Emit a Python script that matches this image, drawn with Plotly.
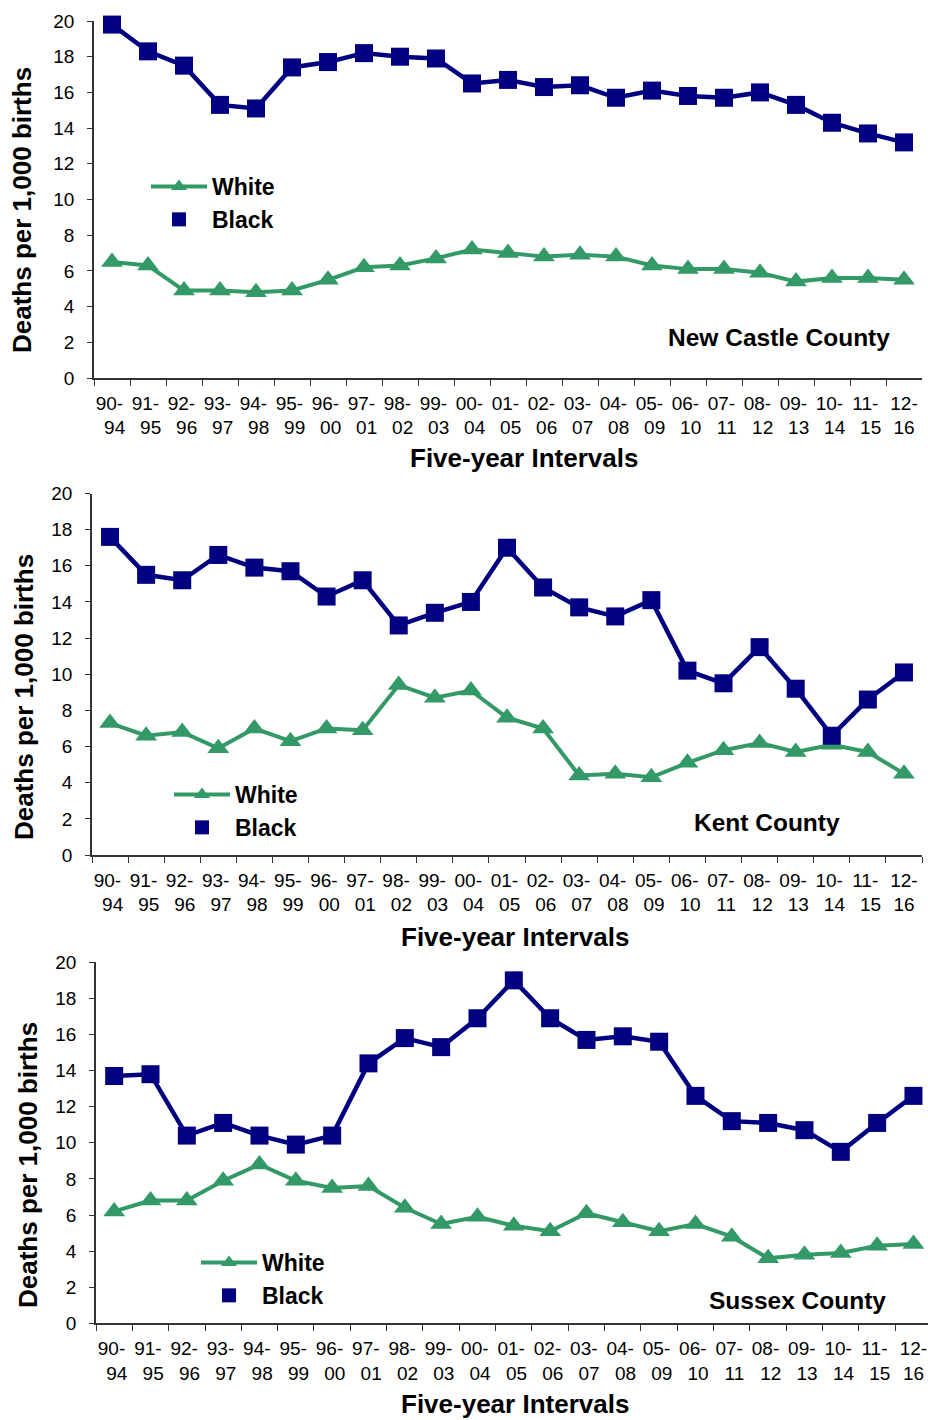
import plotly.graph_objects as go

categories = ["90-94", "91-95", "92-96", "93-97", "94-98", "95-99", "96-00", "97-01",
              "98-02", "99-03", "00-04", "01-05", "02-06", "03-07", "04-08", "05-09",
              "06-10", "07-11", "08-12", "09-13", "10-14", "11-15", "12-16"]

nc_white = [6.5, 6.3, 4.9, 4.9, 4.8, 4.9, 5.5, 6.2, 6.3, 6.7, 7.2, 7.0, 6.8, 6.9, 6.8,
            6.3, 6.1, 6.1, 5.9, 5.4, 5.6, 5.6, 5.5]
nc_black = [19.8, 18.3, 17.5, 15.3, 15.1, 17.4, 17.7, 18.2, 18.0, 17.9, 16.5, 16.7, 16.3,
            16.4, 15.7, 16.1, 15.8, 15.7, 16.0, 15.3, 14.3, 13.7, 13.2]

kent_white = [7.3, 6.6, 6.8, 5.9, 7.0, 6.3, 7.0, 6.9, 9.4, 8.7, 9.1, 7.6, 7.0, 4.4, 4.5,
              4.3, 5.1, 5.8, 6.2, 5.7, 6.1, 5.7, 4.5]
kent_black = [17.6, 15.5, 15.2, 16.6, 15.9, 15.7, 14.3, 15.2, 12.7, 13.4, 14.0, 17.0, 14.8,
              13.7, 13.2, 14.1, 10.2, 9.5, 11.5, 9.2, 6.6, 8.6, 10.1]

sussex_white = [6.2, 6.8, 6.8, 7.9, 8.8, 7.9, 7.5, 7.6, 6.4, 5.5, 5.9, 5.4, 5.1, 6.1, 5.6,
                5.1, 5.5, 4.8, 3.6, 3.8, 3.9, 4.3, 4.4]
sussex_black = [13.7, 13.8, 10.4, 11.1, 10.4, 9.9, 10.4, 14.4, 15.8, 15.3, 16.9, 19.0, 16.9,
                15.7, 15.9, 15.6, 12.6, 11.2, 11.1, 10.7, 9.5, 11.1, 12.6]

county_names = ["New Castle County", "Kent County", "Sussex County"]
x_title = "Five-year Intervals"
y_title = "Deaths per 1,000 births"

W, H = 928, 1420
GREEN = "#339966"
NAVY = "#000080"
FONT = "Liberation Sans, Arial, sans-serif"
AXIS = "#333333"

labels = [c.replace("-", "-<br>") for c in categories]
ticktext = [c.split("-")[0] + "-&nbsp;<br>&nbsp;" + c.split("-")[1] for c in categories[:-1]]
ticktext.append(categories[-1].replace("-", "-<br>"))

panels = [
    dict(white=nc_white, black=nc_black, x0=94, x1=922, ytop=21, ybot=378, xr=[-0.5, 22.5],
         legend=(146, 165), county=(779, 337), xt=(524, 458), yt=(22, 210)),
    dict(white=kent_white, black=kent_black, x0=92, x1=922, ytop=493.5, ybot=855, xr=[-0.5, 22.5],
         legend=(169, 773), county=(767, 822), xt=(515, 937), yt=(24, 697)),
    dict(white=sussex_white, black=sussex_black, x0=96, x1=928, ytop=962.3, ybot=1323.3, xr=[-0.5, 22.4],
         legend=(196, 1241), county=(797, 1300), xt=(515, 1404), yt=(28, 1165)),
]


def px(x):
    return x / W


def py(y):
    return 1 - y / H


fig = go.Figure()
annotations = []
for i, p in enumerate(panels):
    n = "" if i == 0 else str(i + 1)
    xa, ya = "x" + n, "y" + n
    lg = "legend" + n
    fig.add_trace(go.Scatter(x=labels, y=p["white"], mode="lines+markers", xaxis=xa, yaxis=ya,
                             line=dict(color=GREEN, width=4),
                             marker=dict(symbol="triangle-up", size=19, color=GREEN),
                             showlegend=False, cliponaxis=False))
    fig.add_trace(go.Scatter(x=labels, y=p["black"], mode="lines+markers", xaxis=xa, yaxis=ya,
                             line=dict(color=NAVY, width=4.5),
                             marker=dict(symbol="square", size=18, color=NAVY),
                             showlegend=False, cliponaxis=False))
    # legend-only entries
    fig.add_trace(go.Scatter(x=[None], y=[None], mode="lines+markers", name="White",
                             xaxis=xa, yaxis=ya, legend=lg,
                             line=dict(color=GREEN, width=4),
                             marker=dict(symbol="triangle-up", size=14, color=GREEN)))
    fig.add_trace(go.Scatter(x=[None], y=[None], mode="markers", name="Black",
                             xaxis=xa, yaxis=ya, legend=lg,
                             marker=dict(symbol="square", size=14, color=NAVY)))

    fig.update_layout(**{
        "xaxis" + n: dict(domain=[px(p["x0"]), min(px(p["x1"]), 1)], anchor=ya, type="category",
                          range=p["xr"], tickson="boundaries", ticks="outside", ticklen=6,
                          tickcolor=AXIS, showline=True, linecolor=AXIS, linewidth=1.5,
                          showgrid=False, tickmode="array", tickvals=labels, ticktext=ticktext,
                          tickangle=0, automargin=False, ticklabelstandoff=7,
                          tickfont=dict(family=FONT, size=19, color="black")),
        "yaxis" + n: dict(domain=[py(p["ybot"]), py(p["ytop"])], anchor=xa,
                          range=[0, 20], dtick=2, ticks="outside", ticklen=5, tickcolor=AXIS,
                          showline=True, linecolor=AXIS, linewidth=1.5, showgrid=False,
                          zeroline=False, ticklabelstandoff=9, automargin=False,
                          tickfont=dict(family=FONT, size=19, color="black")),
        lg: dict(x=px(p["legend"][0]), y=py(p["legend"][1]), xanchor="left", yanchor="top",
                 xref="paper", yref="paper", bgcolor="rgba(0,0,0,0)", itemwidth=56,
                 tracegroupgap=0,
                 font=dict(family=FONT, size=23, color="black", weight="bold")),
    })

    annotations.append(dict(text="<b>" + county_names[i] + "</b>", x=px(p["county"][0]),
                            y=py(p["county"][1]), xref="paper", yref="paper",
                            showarrow=False, xanchor="center", yanchor="middle",
                            font=dict(family=FONT, size=24.5, color="black")))
    annotations.append(dict(text="<b>" + x_title + "</b>", x=px(p["xt"][0]),
                            y=py(p["xt"][1]), xref="paper", yref="paper",
                            showarrow=False, xanchor="center", yanchor="middle",
                            font=dict(family=FONT, size=26, color="black")))
    annotations.append(dict(text="<b>" + y_title + "</b>", x=px(p["yt"][0]),
                            y=py(p["yt"][1]), xref="paper", yref="paper", textangle=-90,
                            showarrow=False, xanchor="center", yanchor="middle",
                            font=dict(family=FONT, size=26, color="black")))

fig.update_layout(width=W, height=H, margin=dict(l=0, r=0, t=0, b=0, autoexpand=False),
                  paper_bgcolor="white", plot_bgcolor="white",
                  annotations=annotations, showlegend=True)

fig.write_html("out.html", config={"displayModeBar": False},
               post_script="document.body.style.margin='0';")
